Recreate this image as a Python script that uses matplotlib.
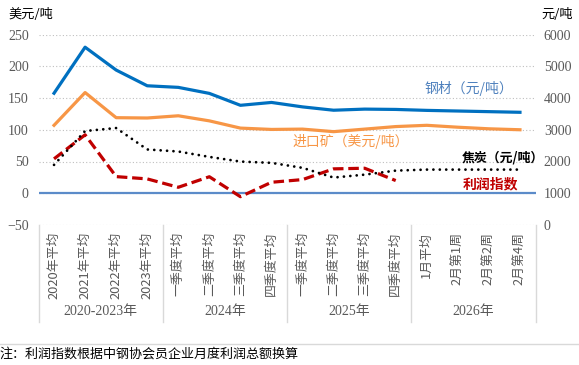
import matplotlib
matplotlib.use("Agg")
import matplotlib.pyplot as plt
import matplotlib.transforms as mtransforms
from matplotlib.lines import Line2D
import numpy as np

categories = ["2020年平均", "2021年平均", "2022年平均", "2023年平均",
              "一季度平均", "二季度平均", "三季度平均", "四季度平均",
              "一季度平均", "二季度平均", "三季度平均", "四季度平均",
              "1月平均", "2月第1周", "2月第2周", "2月第4周"]
groups = ["2020-2023年", "2024年", "2025年", "2026年"]
group_sizes = [4, 4, 4, 4]

steel = [4150, 5600, 4880, 4385, 4335, 4145, 3770, 3860, 3720, 3615, 3650, 3640, 3610, 3590, 3570, 3550]
ore = [107, 158.6, 119, 118.5, 122, 114, 102.6, 100.5, 101, 97, 101, 105, 107, 104, 101.5, 100]
coke = [1894, 2960, 3054, 2379, 2315, 2145, 1998, 1957, 1800, 1494, 1586, 1713, 1745, 1745, 1745, 1745]
profit = [54.2, 92, 26.2, 22.6, 9.4, 26, -5.4, 17.3, 21.5, 38.4, 39.4, 20,
          np.nan, np.nan, np.nan, np.nan]

left_ticks = [-50, 0, 50, 100, 150, 200, 250]
right_ticks = [0, 1000, 2000, 3000, 4000, 5000, 6000]

W, H = 579, 365
fig = plt.figure(figsize=(W / 100, H / 100), dpi=100)
L, R, T, B = 38.5, 535.5, 34.5, 225
ax = fig.add_axes([L / W, 1 - B / H, (R - L) / W, (B - T) / H])
ax2 = ax.twinx()

cjk = ["Noto Sans CJK SC", "DejaVu Sans"]
serif = ["Liberation Serif", "Noto Sans CJK SC"]
gray = "#595959"

x = np.arange(len(categories))
ax.set_xlim(-0.5, len(categories) - 0.5)
ax.set_ylim(-50, 250)
ax2.set_ylim(0, 6000)
ax.set_yticks(left_ticks)
ax2.set_yticks(right_ticks)
ax.set_xticks([])
for a in (ax, ax2):
    for s in a.spines.values():
        s.set_visible(False)
    a.tick_params(axis="y", length=0, labelsize=10, labelcolor=gray)
ax.tick_params(axis="y", pad=7)
ax2.tick_params(axis="y", pad=6)
for lab in ax.get_yticklabels() + ax2.get_yticklabels():
    lab.set_family(serif)

ax.grid(axis="y", color="#BFBFBF", lw=0.8, linestyle=(0, (1, 2)))
ax.set_axisbelow(True)
ax.axhline(0, color="#5B8BC9", lw=1.6, zorder=1)

ax2.plot(x, steel, color="#0070C0", lw=2.3, zorder=4)
ax.plot(x, ore, color="#F79646", lw=2.3, zorder=3)
ax2.plot(x, coke, color="black", lw=2.0, dashes=(0.01, 2.3), dash_capstyle="round", zorder=3)
ax.plot(x, profit, color="#C00000", lw=2.3, dashes=(3.3, 1.5), zorder=4)

# series labels
fig.text(425 / W, 1 - 88 / H, "钢材（元/吨）", family=cjk, fontsize=10, color="#4F81BD", va="center", ha="left")
fig.text(292 / W, 1 - 142 / H, "进口矿（美元/吨）", family=cjk, fontsize=10, color="#F79646", va="center", ha="left")
fig.text(462 / W, 1 - 157 / H, "焦炭（元/吨）", family=cjk, fontsize=9.3, color="black", fontweight="bold", va="center", ha="left")
fig.text(463 / W, 1 - 184 / H, "利润指数", family=cjk, fontsize=10, color="#C00000", fontweight="bold", va="center", ha="left")

# axis unit labels
fig.text(8 / W, 1 - 14 / H, "美元/吨", family=cjk, fontsize=9.5, color="black", va="center", ha="left")
fig.text(541 / W, 1 - 14 / H, "元/吨", family=cjk, fontsize=9.5, color="black", va="center", ha="left")

# category labels
tr = mtransforms.blended_transform_factory(ax.transData, fig.transFigure)
for xi, c in zip(x, categories):
    ax.text(xi, 1 - 232 / H, c, transform=tr, rotation=90, ha="center", va="top",
            family=cjk, fontsize=9.3, color=gray)

# group labels and separators
start = 0
bounds = [-0.5]
for g, n in zip(groups, group_sizes):
    center = start + (n - 1) / 2
    ax.text(center, 1 - 311 / H, g, transform=tr, ha="center", va="center",
            family=serif, fontsize=10, color=gray)
    start += n
    bounds.append(start - 0.5)
for bx in bounds:
    ax.add_line(Line2D([bx, bx], [1 - 225 / H, 1 - 322 / H], transform=tr,
                       color="#D9D9D9", lw=1.0, clip_on=False))

# bottom separator and footnote
fig.add_artist(Line2D([0, 1], [1 - 344 / H, 1 - 344 / H], transform=fig.transFigure,
                      color="#D9D9D9", lw=1.0))
fig.text(0 / W, 1 - 354 / H, "注：利润指数根据中钢协会员企业月度利润总额换算", family=cjk,
         fontsize=9.4, color="black", va="center", ha="left")

fig.savefig("out.png", dpi=100)
